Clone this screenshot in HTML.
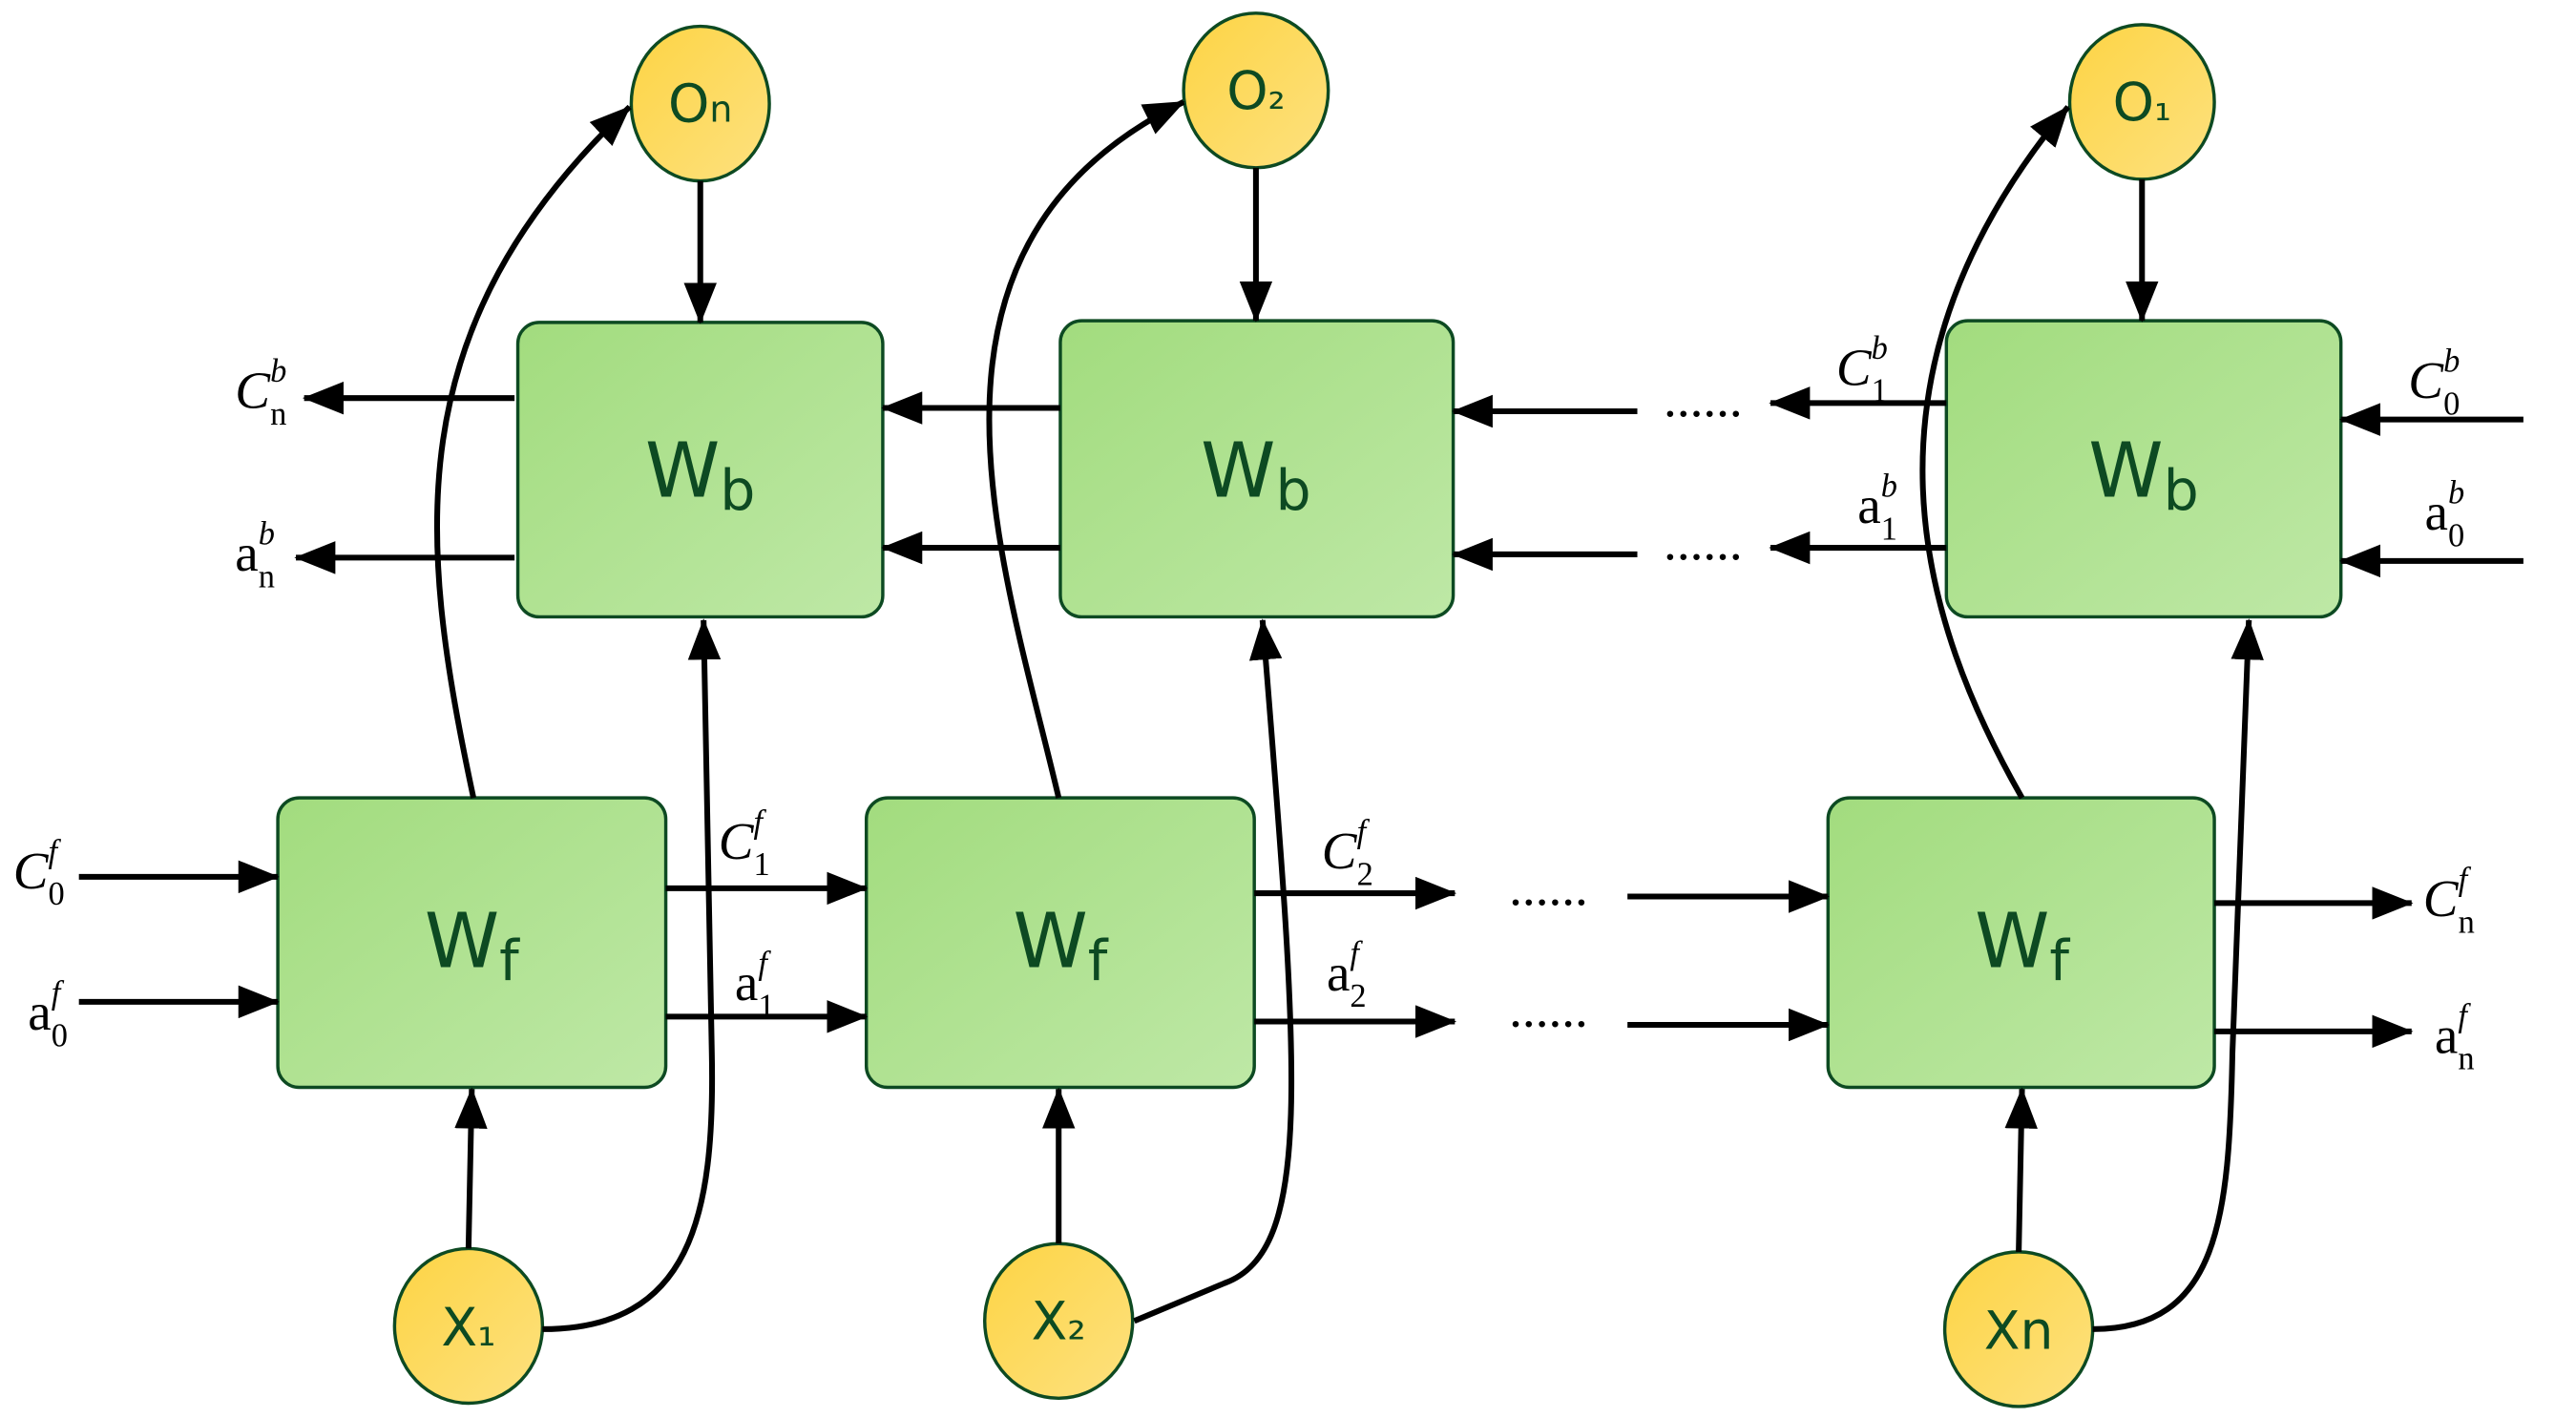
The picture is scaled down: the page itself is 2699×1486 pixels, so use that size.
<!DOCTYPE html>
<html><head><meta charset="utf-8"><style>
html,body{margin:0;padding:0;background:#fff;}
svg{display:block;}
.bx{stroke:#0d4a22;stroke-width:2;}
.ln{stroke:#000;stroke-width:3.5;fill:none;}
.t{font-family:"DejaVu Sans","Liberation Sans",sans-serif;fill:#0d4a22;}
.m{font-family:"Liberation Serif",serif;fill:#000;font-size:32px;}
</style></head><body>
<svg width="2699" height="1486" viewBox="0 0 1567 862" preserveAspectRatio="none">
<defs>
<linearGradient id="g" x1="0" y1="0" x2="1" y2="1"><stop offset="0" stop-color="#a2dc7e"/><stop offset="1" stop-color="#bee8a6"/></linearGradient>
<linearGradient id="y" x1="0" y1="0" x2="1" y2="1"><stop offset="0" stop-color="#fdd444"/><stop offset="1" stop-color="#fde17f"/></linearGradient>
<marker id="a" markerUnits="userSpaceOnUse" markerWidth="26" markerHeight="20" refX="24" refY="10" orient="auto"><path d="M0,0 L25,10 L0,20 Z" fill="#000"/></marker>
</defs>
<rect class="bx" x="315" y="196" width="222" height="179" rx="13" fill="url(#g)"/>
<rect class="bx" x="645" y="195" width="239" height="180" rx="13" fill="url(#g)"/>
<rect class="bx" x="1184" y="195" width="240" height="180" rx="13" fill="url(#g)"/>
<rect class="bx" x="169" y="485" width="236" height="176" rx="13" fill="url(#g)"/>
<rect class="bx" x="527" y="485" width="236" height="176" rx="13" fill="url(#g)"/>
<rect class="bx" x="1112" y="485" width="235" height="176" rx="13" fill="url(#g)"/>
<g class="t" font-size="46" text-anchor="middle">
<text x="426" y="302">W<tspan font-size="34" dy="8">b</tspan></text>
<text x="764" y="302">W<tspan font-size="34" dy="8">b</tspan></text>
<text x="1304" y="302">W<tspan font-size="34" dy="8">b</tspan></text>
<text x="287" y="588">W<tspan font-size="34" dy="8">f</tspan></text>
<text x="645" y="588">W<tspan font-size="34" dy="8">f</tspan></text>
<text x="1230" y="588">W<tspan font-size="34" dy="8">f</tspan></text>
</g>
<g class="bx" fill="url(#y)">
<ellipse cx="426" cy="63" rx="42" ry="47"/>
<ellipse cx="764" cy="55" rx="44" ry="47"/>
<ellipse cx="1303" cy="62" rx="44" ry="47"/>
<ellipse cx="285" cy="806" rx="45" ry="47"/>
<ellipse cx="644" cy="803" rx="45" ry="47"/>
<ellipse cx="1228" cy="808" rx="45" ry="47"/>
</g>
<g class="t" font-size="32" text-anchor="middle">
<text x="426" y="74">O<tspan font-size="22">n</tspan></text>
<text x="764" y="66">O<tspan font-size="26">₂</tspan></text>
<text x="1303" y="73">O<tspan font-size="26">₁</tspan></text>
<text x="285" y="818">X<tspan font-size="28">₁</tspan></text>
<text x="644" y="814">X<tspan font-size="28">₂</tspan></text>
<text x="1228" y="820">Xn</text>
</g>
<g class="ln" marker-end="url(#a)">
<line x1="426" y1="110" x2="426" y2="196"/>
<line x1="764" y1="102" x2="764" y2="195"/>
<line x1="1303" y1="109" x2="1303" y2="195"/>
<line x1="285" y1="759" x2="287" y2="662"/>
<line x1="644" y1="756" x2="644" y2="662"/>
<line x1="1228" y1="761" x2="1230" y2="662"/>
<line x1="313" y1="242" x2="185" y2="242"/>
<line x1="313" y1="339" x2="180" y2="339"/>
<line x1="645" y1="248" x2="537" y2="248"/>
<line x1="645" y1="333" x2="537" y2="333"/>
<line x1="996" y1="250" x2="884" y2="250"/>
<line x1="996" y1="337" x2="884" y2="337"/>
<line x1="1184" y1="245" x2="1077" y2="245"/>
<line x1="1184" y1="333" x2="1077" y2="333"/>
<line x1="1535" y1="255" x2="1424" y2="255"/>
<line x1="1535" y1="341" x2="1424" y2="341"/>
<line x1="48" y1="533" x2="169" y2="533"/>
<line x1="48" y1="609" x2="169" y2="609"/>
<line x1="405" y1="540" x2="527" y2="540"/>
<line x1="405" y1="618" x2="527" y2="618"/>
<line x1="763" y1="543" x2="885" y2="543"/>
<line x1="763" y1="621" x2="885" y2="621"/>
<line x1="990" y1="545" x2="1112" y2="545"/>
<line x1="990" y1="623" x2="1112" y2="623"/>
<line x1="1347" y1="549" x2="1467" y2="549"/>
<line x1="1347" y1="627" x2="1467" y2="627"/>
<path d="M288,485 C255,330 240,200 383,65"/>
<path d="M644,485 C610,340 540,150 720,62"/>
<path d="M1230,485 C1170,380 1120,230 1258,65"/>
<path d="M330,808 C420,808 435,740 433,640 L428,377"/>
<path d="M690,803 L745,780 C800,760 790,650 768,377"/>
<path d="M1273,808 C1350,808 1356,740 1358,640 L1368,377"/>
</g>
<g class="m" font-size="24">
<text x="1012" y="253">......</text>
<text x="1012" y="340">......</text>
<text x="918" y="550">......</text>
<text x="918" y="624">......</text>
</g>
<g class="m">
<text x="143" y="248"><tspan font-style="italic">C</tspan><tspan font-size="20" dy="10">n</tspan><tspan font-size="20" font-style="italic" dx="-10" dy="-26">b</tspan></text>
<text x="143" y="347">a<tspan font-size="20" dy="10">n</tspan><tspan font-size="20" font-style="italic" dx="-10" dy="-26">b</tspan></text>
<text x="1117" y="234"><tspan font-style="italic">C</tspan><tspan font-size="20" dy="10">1</tspan><tspan font-size="20" font-style="italic" dx="-10" dy="-26">b</tspan></text>
<text x="1130" y="318">a<tspan font-size="20" dy="10">1</tspan><tspan font-size="20" font-style="italic" dx="-10" dy="-26">b</tspan></text>
<text x="1465" y="242"><tspan font-style="italic">C</tspan><tspan font-size="20" dy="10">0</tspan><tspan font-size="20" font-style="italic" dx="-10" dy="-26">b</tspan></text>
<text x="1475" y="322">a<tspan font-size="20" dy="10">0</tspan><tspan font-size="20" font-style="italic" dx="-10" dy="-26">b</tspan></text>
<text x="8" y="540"><tspan font-style="italic">C</tspan><tspan font-size="20" dy="10">0</tspan><tspan font-size="20" font-style="italic" dx="-10" dy="-26">f</tspan></text>
<text x="17" y="626">a<tspan font-size="20" dy="10">0</tspan><tspan font-size="20" font-style="italic" dx="-10" dy="-26">f</tspan></text>
<text x="437" y="522"><tspan font-style="italic">C</tspan><tspan font-size="20" dy="10">1</tspan><tspan font-size="20" font-style="italic" dx="-10" dy="-26">f</tspan></text>
<text x="447" y="608">a<tspan font-size="20" dy="10">1</tspan><tspan font-size="20" font-style="italic" dx="-10" dy="-26">f</tspan></text>
<text x="804" y="528"><tspan font-style="italic">C</tspan><tspan font-size="20" dy="10">2</tspan><tspan font-size="20" font-style="italic" dx="-10" dy="-26">f</tspan></text>
<text x="807" y="602">a<tspan font-size="20" dy="10">2</tspan><tspan font-size="20" font-style="italic" dx="-10" dy="-26">f</tspan></text>
<text x="1474" y="557"><tspan font-style="italic">C</tspan><tspan font-size="20" dy="10">n</tspan><tspan font-size="20" font-style="italic" dx="-10" dy="-26">f</tspan></text>
<text x="1481" y="640">a<tspan font-size="20" dy="10">n</tspan><tspan font-size="20" font-style="italic" dx="-10" dy="-26">f</tspan></text>
</g>
</svg>
</body></html>
